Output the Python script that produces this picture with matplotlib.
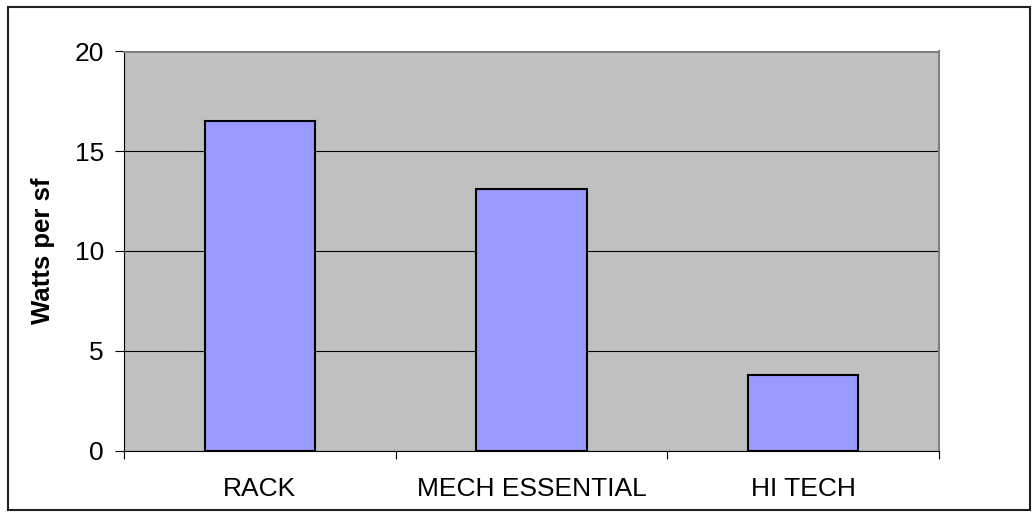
import matplotlib
matplotlib.use("Agg")
import matplotlib.pyplot as plt
from matplotlib.patches import Rectangle

categories = ["RACK", "MECH ESSENTIAL", "HI TECH"]
watts_per_sf = [16.5, 13.1, 3.8]
y_ticks = [0, 5, 10, 15, 20]

plt.rcParams["font.family"] = ["Liberation Sans", "DejaVu Sans"]

W, H = 1034, 513
fig = plt.figure(figsize=(W / 100, H / 100), dpi=100)
# outer chart border
fig.patches.append(Rectangle((8 / W, 3 / H), 1022 / W, 503 / H,
                             transform=fig.transFigure, fill=False,
                             edgecolor="#202020", linewidth=1.5))

ax = fig.add_axes([124 / W, 1 - 450.5 / H, 815 / W, 399 / H])
ax.set_facecolor("#C0C0C0")

x = range(len(categories))
ax.bar(x, watts_per_sf, width=0.405, color="#9999FF", edgecolor="black",
       linewidth=1.5, zorder=3)

ax.set_xlim(-0.5, len(categories) - 0.5)
ax.set_ylim(0, 20)
ax.set_yticks(y_ticks)
ax.yaxis.grid(True, color="black", linewidth=0.8, zorder=1)
ax.set_axisbelow(True)

ax.set_xticks(list(x))
ax.set_xticklabels(categories, fontsize=19)
ax.tick_params(axis="x", length=0, pad=19)
ax.set_xticks([i - 0.5 for i in range(len(categories) + 1)], minor=True)
ax.tick_params(axis="x", which="minor", length=6, width=0.8, direction="out")
ax.tick_params(axis="y", length=6.5, width=0.8, direction="out", labelsize=19, pad=8)

ax.set_ylabel("Watts per sf", fontsize=18.5, fontweight="bold", va="center")
ax.yaxis.set_label_coords((43 - 124) / 815, 0.5)

for side in ("top", "right"):
    ax.spines[side].set_color("#808080")
    ax.spines[side].set_linewidth(1.5)
for side in ("left", "bottom"):
    ax.spines[side].set_color("black")
    ax.spines[side].set_linewidth(0.8)

fig.savefig("out.png", dpi=100)
